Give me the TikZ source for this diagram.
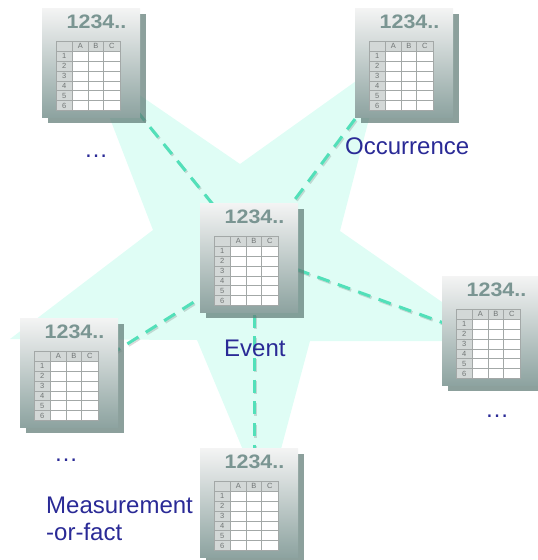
\documentclass[tikz,border=0pt]{standalone}
\usepackage{fontspec}
\usepackage{graphicx}
\setmainfont{Liberation Sans}
\definecolor{starfill}{HTML}{DFFDF5}
\definecolor{connc}{HTML}{52E0B9}
\definecolor{labelc}{HTML}{2A2A96}
\definecolor{cardtop}{HTML}{F4F4F4}
\definecolor{cardbot}{HTML}{8DA3A0}
\definecolor{cardshadow}{HTML}{5F7C76}
\definecolor{numc}{HTML}{7A9592}
\definecolor{gridc}{HTML}{A3A8A7}
\definecolor{headc}{HTML}{D3D8D7}
\definecolor{headtxt}{HTML}{707575}
\tikzset{
  star area/.style={fill=starfill,draw=none},
  conn/.style={draw=connc,line width=3pt,dash pattern=on 13pt off 8.7pt},
  connshade/.style={draw=black,opacity=.14,line width=3pt,dash pattern=on 13pt off 8.7pt,transform canvas={shift={(1.2pt,-1.5pt)}}},
  cardbox/.style={minimum width=98pt,minimum height=109pt,inner sep=0pt,outer sep=0pt,top color=cardtop,bottom color=cardbot,draw=none},
  cardshade/.style={fill=cardshadow,opacity=.72,draw=none},
  numtxt/.style={inner sep=0pt,text=numc,font=\fontsize{19.5}{20}\selectfont\bfseries,anchor=base},
  cell/.style={fill=white,draw=gridc,line width=.8pt},
  headcell/.style={fill=headc,draw=gridc,line width=.8pt},
  headlab/.style={inner sep=0pt,text=headtxt,font=\fontsize{7.5}{8}\selectfont},
  biglabel/.style={inner sep=0pt,text=labelc,font=\fontsize{24}{27}\selectfont,anchor=base west}
}
\newcommand{\mkcard}[3]{%
  \begin{scope}[shift={(#2,#3)}]
    \fill[cardshade] (5.5,5.5) rectangle (103.5,114.5);
    \node[cardbox] (#1) at (49,54.5) {};
    \node[numtxt] (#1-num) at (54.5,20) {\scalebox{1.1}[1]{1234..}};
    \foreach \cx/\cxx/\lab in {30.7/46/A,46/61.7/B,61.7/78/C}{
      \path[headcell] (\cx,33.3) rectangle (\cxx,43);
      \node[headlab] (#1-\lab) at ({(\cx+\cxx)/2},38.2) {\lab};
    }
    \path[headcell] (14,33.3) rectangle (30.7,43);
    \foreach \r/\ya/\yb in {1/43/53,2/53/63,3/63/73,4/73/82.7,5/82.7/92.7,6/92.7/102.3}{
      \path[headcell] (14,\ya) rectangle (30.7,\yb);
      \node[headlab] (#1-r\r) at (22.3,{(\ya+\yb)/2}) {\r};
      \foreach \cx/\cxx in {30.7/46,46/61.7,61.7/78}{
        \path[cell] (\cx,\ya) rectangle (\cxx,\yb);
      }
    }
  \end{scope}%
}
\begin{document}
\begin{tikzpicture}[x=1pt,y=-1pt]
\useasboundingbox (0,0) rectangle (538,560);
\fill[star area] (87,59) -- (240,164) -- (384,61) -- (340,231) -- (498,341) -- (310,341)
  -- (266,505) -- (197,340) -- (10,339) -- (153,230) -- cycle;
% connector ends
\coordinate (tlA) at (136.3,110.3); \coordinate (tlB) at (215,207);
\coordinate (trA) at (355,119);     \coordinate (trB) at (290,206);
\coordinate (riA) at (297,269.5);   \coordinate (riB) at (445,323.5);
\coordinate (leA) at (109,355.4);   \coordinate (leB) at (205,295);
\coordinate (boA) at (254,314.5);   \coordinate (boB) at (254,450);
\foreach \a/\b in {tlA/tlB,trA/trB,riA/riB,leA/leB,boA/boB}{
  \draw[connshade] (\a) -- (\b);
  \draw[conn] (\a) -- (\b);
}
\mkcard{tl}{42}{8}
\mkcard{tr}{355}{8}
\mkcard{ev}{200}{203}
\mkcard{ri}{442}{276}
\mkcard{le}{20}{318}
\mkcard{bo}{200}{448}
\node[biglabel] (occ) at (345,154) {Occurrence};
\node[biglabel] (evt) at (224,356) {Event};
\node[biglabel] (mea) at (46,513) {Measurement};
\node[biglabel] (orf) at (46,540) {-or-fact};
\node[biglabel] (d1) at (84,157) {…};
\node[biglabel] (d2) at (54,461) {…};
\node[biglabel] (d3) at (485,417) {…};
\end{tikzpicture}
\end{document}
